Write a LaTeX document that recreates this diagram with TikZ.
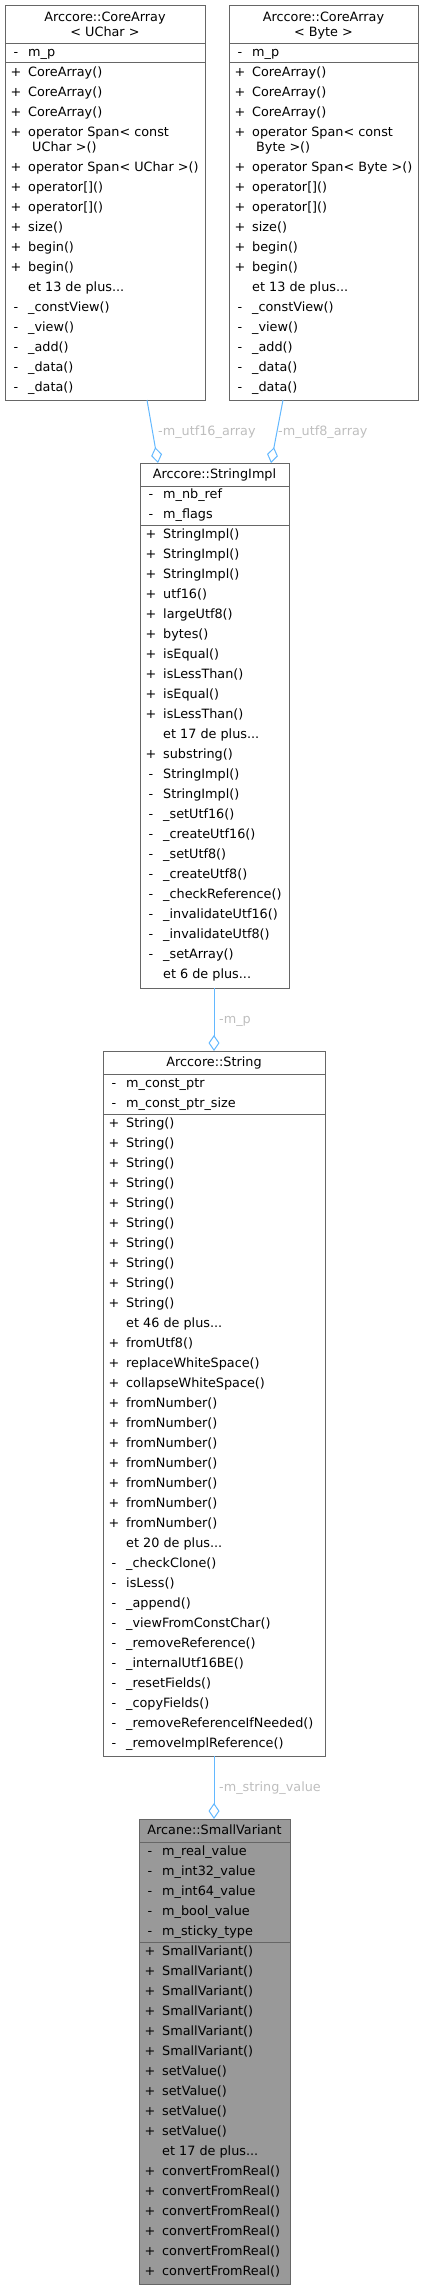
\documentclass[tikz,border=0pt]{standalone}
\usepackage{fontspec}
\setmainfont{DejaVu Sans}
\usetikzlibrary{arrows.meta}
\definecolor{boxline}{HTML}{666666}
\definecolor{edgeblue}{HTML}{63B8FF}
\definecolor{lblgrey}{HTML}{BEBEBE}
\definecolor{rootfill}{HTML}{999999}
\tikzset{
  classbox/.style={draw=boxline, line width=1pt, fill=white, inner sep=0pt, outer sep=0pt, anchor=north west},
  rootbox/.style={classbox, fill=rootfill},
  txt/.style={inner sep=0pt, anchor=base west, font=\fontsize{12.8}{15}\selectfont},
  ttl/.style={inner sep=0pt, anchor=base, font=\fontsize{12.8}{15}\selectfont},
  mrk/.style={inner sep=0pt, anchor=base, font=\fontsize{12.8}{15}\selectfont},
  sepline/.style={draw=boxline, line width=1pt},
  assoc/.style={draw=edgeblue, line width=1pt, -{Diamond[open, length=16pt, width=11pt, line width=1pt]}},
  elabel/.style={inner sep=0pt, anchor=base west, text=lblgrey, font=\fontsize{12.8}{15}\selectfont},
}
\newcommand\tdots{...}
\newcommand\classrows[4]{%
  \foreach \m/\t [count=\i from 0] in {#4} {
    \node[mrk] (#1-m\i) at ({#2+11},{#3+4.2+20*\i}) {\m};
    \node[txt] (#1-t\i) at ({#2+23},{#3+4.2+20*\i}) {\t};
  }}
\begin{document}
\begin{tikzpicture}[x=1pt,y=-1pt]
\useasboundingbox (0,0) rectangle (424,2289);

% ---------- CoreArray<UChar>
\node[classbox, minimum width=200pt, minimum height=395pt] (ua) at (5,5) {};
\draw[sepline] ([yshift=-38pt]ua.north west) -- ([yshift=-38pt]ua.north east);
\draw[sepline] ([yshift=-57pt]ua.north west) -- ([yshift=-57pt]ua.north east);
\node[ttl] (ua-t1) at (105,21.2) {Arccore::CoreArray};
\node[ttl] (ua-t2) at (105,36.2) {< UChar >};
\classrows{uaa}{5}{52}{-/m\_p}
\classrows{uab}{5}{72}{+/CoreArray(),+/CoreArray(),+/CoreArray(),+/operator Span< const}
\node[txt] (ua-cont) at (32,151) {UChar >()};
\classrows{uac}{5}{167}{+/operator Span< UChar >(),+/{operator[]()},+/{operator[]()},+/size(),+/begin(),+/begin(),{}/et 13 de plus\tdots,-/\_constView(),-/\_view(),-/\_add(),-/\_data(),-/\_data()}

% ---------- CoreArray<Byte>
\node[classbox, minimum width=189pt, minimum height=395pt] (ub) at (229,5) {};
\draw[sepline] ([yshift=-38pt]ub.north west) -- ([yshift=-38pt]ub.north east);
\draw[sepline] ([yshift=-57pt]ub.north west) -- ([yshift=-57pt]ub.north east);
\node[ttl] (ub-t1) at (323.5,21.2) {Arccore::CoreArray};
\node[ttl] (ub-t2) at (323.5,36.2) {< Byte >};
\classrows{uba}{229}{52}{-/m\_p}
\classrows{ubb}{229}{72}{+/CoreArray(),+/CoreArray(),+/CoreArray(),+/operator Span< const}
\node[txt] (ub-cont) at (256,151) {Byte >()};
\classrows{ubc}{229}{167}{+/operator Span< Byte >(),+/{operator[]()},+/{operator[]()},+/size(),+/begin(),+/begin(),{}/et 13 de plus\tdots,-/\_constView(),-/\_view(),-/\_add(),-/\_data(),-/\_data()}

% ---------- StringImpl
\node[classbox, minimum width=149pt, minimum height=525pt] (si) at (140,463) {};
\draw[sepline] ([yshift=-23pt]si.north west) -- ([yshift=-23pt]si.north east);
\draw[sepline] ([yshift=-62pt]si.north west) -- ([yshift=-62pt]si.north east);
\node[ttl] (si-t) at (214.5,478.7) {Arccore::StringImpl};
\classrows{sia}{140}{494}{-/m\_nb\_ref,-/m\_flags}
\classrows{sib}{140}{534}{+/StringImpl(),+/StringImpl(),+/StringImpl(),+/utf16(),+/largeUtf8(),+/bytes(),+/isEqual(),+/isLessThan(),+/isEqual(),+/isLessThan(),{}/et 17 de plus\tdots,+/substring(),-/StringImpl(),-/StringImpl(),-/\_setUtf16(),-/\_createUtf16(),-/\_setUtf8(),-/\_createUtf8(),-/\_checkReference(),-/\_invalidateUtf16(),-/\_invalidateUtf8(),-/\_setArray(),{}/et 6 de plus\tdots}

% ---------- String
\node[classbox, minimum width=222pt, minimum height=705pt] (s) at (103,1051) {};
\draw[sepline] ([yshift=-23pt]s.north west) -- ([yshift=-23pt]s.north east);
\draw[sepline] ([yshift=-63pt]s.north west) -- ([yshift=-63pt]s.north east);
\node[ttl] (s-t) at (214,1066.7) {Arccore::String};
\classrows{sa}{103}{1083}{-/m\_const\_ptr,-/m\_const\_ptr\_size}
\classrows{sb}{103}{1123}{+/String(),+/String(),+/String(),+/String(),+/String(),+/String(),+/String(),+/String(),+/String(),+/String(),{}/et 46 de plus\tdots,+/fromUtf8(),+/replaceWhiteSpace(),+/collapseWhiteSpace(),+/fromNumber(),+/fromNumber(),+/fromNumber(),+/fromNumber(),+/fromNumber(),+/fromNumber(),+/fromNumber(),{}/et 20 de plus\tdots,-/\_checkClone(),-/isLess(),-/\_append(),-/\_viewFromConstChar(),-/\_removeReference(),-/\_internalUtf16BE(),-/\_resetFields(),-/\_copyFields(),-/\_removeReferenceIfNeeded(),-/\_removeImplReference()}

% ---------- SmallVariant
\node[rootbox, minimum width=151pt, minimum height=465pt] (sv) at (139,1819) {};
\draw[sepline] ([yshift=-23pt]sv.north west) -- ([yshift=-23pt]sv.north east);
\draw[sepline] ([yshift=-123pt]sv.north west) -- ([yshift=-123pt]sv.north east);
\node[ttl] (sv-t) at (214.5,1834.7) {Arcane::SmallVariant};
\classrows{sva}{139}{1851}{-/m\_real\_value,-/m\_int32\_value,-/m\_int64\_value,-/m\_bool\_value,-/m\_sticky\_type}
\classrows{svb}{139}{1951}{+/SmallVariant(),+/SmallVariant(),+/SmallVariant(),+/SmallVariant(),+/SmallVariant(),+/SmallVariant(),+/setValue(),+/setValue(),+/setValue(),+/setValue(),{}/et 17 de plus\tdots,+/convertFromReal(),+/convertFromReal(),+/convertFromReal(),+/convertFromReal(),+/convertFromReal(),+/convertFromReal()}

% ---------- connectors
\draw[assoc] ([xshift=142pt]ua.south west) -- ([xshift=18pt]si.north west);
\node[elabel] (l-utf16) at (158,435.2) {-m\_utf16\_array};
\draw[assoc] ([xshift=54pt]ub.south west) -- ([xshift=131pt]si.north west);
\node[elabel] (l-utf8) at (278,435.2) {-m\_utf8\_array};
\draw[assoc] ([xshift=74pt]si.south west) -- ([xshift=111pt]s.north west);
\node[elabel] (l-mp) at (219,1023.2) {-m\_p};
\draw[assoc] ([xshift=111pt]s.south west) -- ([xshift=75pt]sv.north west);
\node[elabel] (l-sv) at (219,1791.2) {-m\_string\_value};
\end{tikzpicture}
\end{document}
